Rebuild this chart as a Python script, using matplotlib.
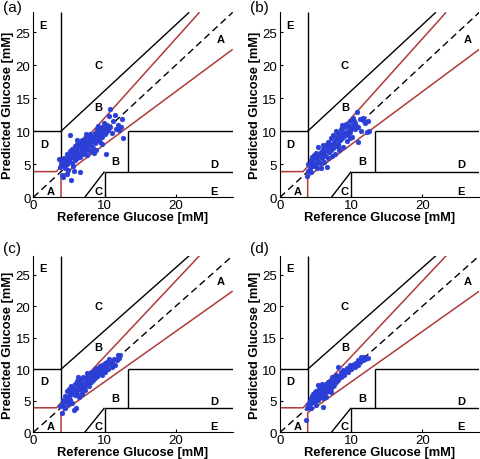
import matplotlib.pyplot as plt

plt.rcParams['font.family'] = ['Liberation Sans', 'DejaVu Sans']

INK = "black"
RED = "#b03a3a"
BLUE = "#2b3fd6"

# Clarke error grid limits in mM (70, 180, 240 mg/dL)
LO = 70 / 18.0
HI = 10.0
B_EDGE = 240 / 18.0
LIM = 28

panel_tags = ["(a)", "(b)", "(c)", "(d)"]

ref_a = [3.6, 3.7, 3.9, 4.0, 4.1, 4.1, 4.2, 4.3, 4.4, 4.5, 4.6, 4.7, 4.8, 4.9, 5.0, 5.0,
         5.1, 5.2, 5.2, 5.3, 5.3, 5.4, 5.5, 5.5, 5.6, 5.7, 5.8, 5.9, 6.0, 6.0, 6.1, 6.2,
         6.3, 6.4, 6.5, 6.5, 6.6, 6.6, 6.7, 6.8, 6.9, 7.0, 7.0, 7.1, 7.2, 7.3, 7.4, 7.5,
         7.5, 7.6, 7.7, 7.8, 7.9, 8.0, 8.0, 8.1, 8.2, 8.3, 8.4, 8.5, 8.5, 8.6, 8.7, 8.8,
         8.9, 9.0, 9.0, 9.1, 9.2, 9.3, 9.4, 9.5, 9.6, 9.7, 9.8, 9.9, 10.0, 10.1, 10.2,
         10.2, 10.3, 10.5, 10.6, 10.8, 10.8, 11.0, 11.2, 11.5, 11.6, 11.9, 12.1, 12.4,
         12.6, 12.3, 7.4, 6.2, 5.7, 4.7, 8.8, 9.6]
pred_a = [5.8, 4.6, 5.2, 3.4, 3.1, 5.6, 4.9, 6.0, 5.3, 4.4, 5.8, 6.5, 5.0, 4.2, 6.2, 5.5,
          7.0, 9.4, 5.9, 2.6, 6.6, 5.2, 7.3, 6.1, 4.7, 6.8, 7.8, 5.6, 7.0, 6.3, 8.1, 5.9,
          7.4, 6.7, 8.3, 7.6, 3.8, 6.1, 7.9, 7.1, 8.6, 6.6, 7.6, 8.2, 7.0, 9.0, 7.7, 6.4,
          8.4, 7.3, 9.3, 8.0, 7.0, 8.8, 9.6, 7.7, 8.5, 9.2, 7.4, 6.7, 8.9, 9.8, 8.2, 9.4,
          10.3, 8.6, 9.7, 10.8, 9.0, 10.1, 8.3, 9.5, 10.6, 9.1, 10.0, 11.2, 9.6, 10.5, 6.6,
          9.9, 11.0, 10.2, 12.3, 13.4, 10.7, 9.8, 11.5, 12.5, 10.4, 11.0, 10.2, 11.9,
          8.9, 10.6, 9.6, 8.7, 4.0, 3.6, 7.2, 8.0]

ref_b = [3.8, 3.9, 4.0, 4.2, 4.3, 4.4, 4.5, 4.6, 4.7, 4.8, 4.9, 5.0, 5.1, 5.2, 5.3, 5.4,
         5.5, 5.6, 5.7, 5.8, 5.9, 6.0, 6.1, 6.2, 6.3, 6.4, 6.5, 6.6, 6.7, 6.8, 6.9, 7.0,
         7.1, 7.2, 7.3, 7.4, 7.5, 7.6, 7.7, 7.8, 7.9, 8.0, 8.1, 8.2, 8.3, 8.4, 8.5, 8.6,
         8.7, 8.8, 8.9, 9.0, 9.1, 9.2, 9.3, 9.4, 9.5, 9.6, 9.7, 9.8, 9.9, 10.0, 10.1, 10.2,
         10.3, 10.5, 10.6, 10.8, 10.9, 11.0, 11.2, 11.4, 11.6, 11.8, 12.0, 12.2, 12.4, 12.5,
         6.1, 5.0, 7.3, 8.7, 9.9, 7.9, 10.4, 4.4, 6.7, 8.2]
pred_b = [3.3, 4.0, 5.0, 4.5, 5.6, 3.8, 6.1, 4.8, 5.4, 6.4, 5.0, 5.9, 6.7, 4.5, 5.5, 7.6,
          6.2, 5.2, 6.8, 4.4, 6.0, 7.3, 6.5, 5.4, 7.0, 7.9, 6.2, 4.6, 7.4, 8.3, 6.8, 7.7,
          8.9, 7.1, 8.0, 9.4, 7.5, 8.4, 6.5, 8.8, 7.8, 9.2, 8.1, 9.8, 7.2, 8.6, 9.5, 10.3,
          8.9, 9.9, 7.6, 9.3, 10.6, 9.7, 11.1, 8.5, 10.1, 9.4, 10.8, 9.9, 11.6, 10.4, 9.1, 10.9,
          12.0, 10.3, 11.3, 12.9, 10.6, 8.4, 11.8, 10.0, 12.0, 11.5, 11.2, 9.9, 11.6, 10.1,
          7.9, 4.8, 6.2, 10.9, 9.0, 10.0, 11.6, 5.2, 6.0, 7.7]

ref_c = [3.8, 4.0, 4.1, 4.2, 4.3, 4.5, 4.6, 4.7, 4.8, 4.9, 5.0, 5.1, 5.2, 5.3, 5.4, 5.5,
         5.6, 5.7, 5.8, 5.9, 6.0, 6.0, 6.1, 6.2, 6.3, 6.4, 6.5, 6.6, 6.7, 6.8, 6.9, 7.0,
         7.1, 7.2, 7.3, 7.4, 7.5, 7.6, 7.7, 7.8, 7.9, 8.0, 8.1, 8.2, 8.3, 8.4, 8.5, 8.6,
         8.7, 8.8, 8.9, 9.0, 9.1, 9.2, 9.3, 9.4, 9.5, 9.6, 9.7, 9.8, 9.9, 10.0, 10.1, 10.2,
         10.4, 10.5, 10.7, 10.9, 11.0, 11.2, 11.4, 11.5, 11.7, 11.9, 12.0, 12.2,
         6.3, 7.6, 5.2, 4.4, 8.0, 9.0, 10.6, 6.9]
pred_c = [4.2, 3.0, 4.6, 5.2, 4.0, 5.8, 4.9, 6.5, 5.5, 4.5, 6.9, 5.9, 5.2, 7.3, 6.4, 4.7,
          6.9, 3.6, 5.9, 7.6, 3.8, 6.7, 8.1, 6.1, 7.3, 5.6, 7.9, 6.9, 8.4, 6.3, 7.5, 8.7,
          7.1, 8.0, 6.7, 8.6, 7.5, 8.2, 9.0, 7.3, 8.5, 9.4, 7.9, 8.8, 9.6, 8.3, 9.1, 10.0,
          8.6, 9.5, 8.9, 10.2, 9.3, 9.8, 10.5, 9.5, 10.0, 9.1, 10.6, 9.9, 10.3, 11.0, 9.6, 10.4,
          11.1, 10.1, 10.8, 11.3, 10.4, 10.9, 11.6, 10.7, 11.5, 12.2, 11.8, 12.3,
          8.7, 9.4, 6.3, 3.9, 8.0, 9.0, 11.6, 6.1]

ref_d = [3.7, 3.8, 4.0, 4.1, 4.2, 4.3, 4.4, 4.5, 4.5, 4.6, 4.7, 4.8, 4.8, 4.9, 5.0, 5.0,
         5.1, 5.2, 5.2, 5.3, 5.3, 5.4, 5.5, 5.5, 5.6, 5.7, 5.7, 5.8, 5.9, 6.0, 6.0, 6.1,
         6.2, 6.2, 6.3, 6.4, 6.5, 6.6, 6.7, 6.8, 6.9, 7.0, 7.1, 7.2, 7.3, 7.4, 7.5, 7.6,
         7.7, 7.8, 7.9, 8.0, 8.1, 8.2, 8.3, 8.5, 8.6, 8.8, 8.9, 9.0, 9.2, 9.4, 9.5, 9.7,
         9.9, 10.0, 10.2, 10.4, 10.5, 10.7, 10.9, 11.0, 11.2, 11.4, 11.6, 11.8, 12.0, 12.3,
         6.5, 5.1, 7.1, 4.9, 5.9, 6.8, 4.3, 6.1]
pred_d = [2.0, 3.9, 4.5, 4.1, 5.0, 4.6, 5.4, 4.9, 5.8, 5.2, 6.1, 5.6, 4.8, 6.4, 5.3, 5.9,
          6.6, 5.7, 6.2, 7.5, 5.1, 6.0, 6.8, 5.5, 6.3, 7.1, 5.8, 6.5, 6.0, 4.0, 6.9, 6.3,
          7.3, 5.9, 6.7, 7.6, 6.4, 7.0, 7.9, 6.6, 7.3, 8.2, 7.0, 7.6, 8.7, 7.3, 8.0, 7.5,
          8.4, 9.1, 8.0, 8.7, 10.4, 8.3, 9.0, 9.5, 8.8, 9.3, 9.9, 9.1, 9.7, 10.2, 9.5, 10.1,
          10.6, 10.0, 10.5, 10.9, 10.3, 11.0, 11.4, 10.7, 11.2, 12.0, 11.5, 11.9, 11.7, 11.8,
          5.6, 4.4, 6.4, 5.0, 7.6, 7.8, 3.9, 5.4]

series = [(ref_a, pred_a), (ref_b, pred_b), (ref_c, pred_c), (ref_d, pred_d)]

zone_labels = ["E", "C", "B", "A", "D", "B", "D", "A", "C", "E"]
zone_x = [1.4, 9.1, 9.1, 26.3, 1.5, 11.5, 25.4, 2.5, 9.1, 25.4]
zone_y = [26.1, 20.0, 13.6, 24.0, 8.1, 5.5, 5.0, 1.0, 1.0, 1.0]

fig = plt.figure(figsize=(4.8, 4.6), dpi=100)
fig.patch.set_facecolor("white")

positions = [
    [0.0694, 0.5689, 0.4154, 0.4022],
    [0.5833, 0.5689, 0.4154, 0.4022],
    [0.0694, 0.0580, 0.4154, 0.3839],
    [0.5833, 0.0580, 0.4154, 0.3839],
]
# top of the panel tag, in axes fraction
tag_y = [1.066, 1.066, 1.083, 1.083]


def draw_grid(ax):
    k = dict(color=INK, lw=1.0, solid_capstyle="butt")
    r = dict(color=RED, lw=1.1, solid_capstyle="butt")
    ax.plot([0, LIM], [0, LIM], color=INK, lw=1.0, ls=(0, (5, 3)))
    # zone A borders
    ax.plot([0, LO / 1.2, LIM / 1.2], [LO, LO, LIM], **r)
    ax.plot([LO, LO, LIM], [0, 0.8 * LO, 0.8 * LIM], **r)
    # other zones
    ax.plot([LO, LO], [1.2 * LO, LIM], **k)
    ax.plot([0, LO], [HI, HI], **k)
    ax.plot([LO, LIM - (HI - LO)], [HI, LIM], **k)
    ax.plot([HI, HI], [0, LO], **k)
    ax.plot([HI, LIM], [LO, LO], **k)
    ax.plot([B_EDGE, B_EDGE], [LO, HI], **k)
    ax.plot([B_EDGE, LIM], [HI, HI], **k)
    ax.plot([130 / 18.0, HI], [0, LO], **k)


for i, ax_pos in enumerate(positions):
    ax = fig.add_axes(ax_pos)
    draw_grid(ax)
    xs, ys = series[i]
    ax.plot(xs, ys, "o", color=BLUE, ms=3.5, mec=BLUE, mew=0.3, zorder=3)
    for lab, zx, zy in zip(zone_labels, zone_x, zone_y):
        ax.text(zx, zy, lab, ha="center", va="center", fontsize=8,
                fontweight="bold", color=INK)
    ax.set_xlim(0, LIM)
    ax.set_ylim(0, LIM)
    ax.set_xticks([0, 10, 20])
    ax.set_yticks([0, 5, 10, 15, 20, 25])
    ax.tick_params(direction="in", length=2.5, labelsize=9.5)
    ax.tick_params(axis="x", pad=1)
    ax.tick_params(axis="y", pad=2)
    for s in ["top", "right"]:
        ax.spines[s].set_visible(False)
    ax.set_xlabel("Reference Glucose [mM]", fontsize=9.3, fontweight="bold",
                  labelpad=0)
    ax.set_ylabel("Predicted Glucose [mM]", fontsize=9.3, fontweight="bold",
                  labelpad=1)
    ax.text(-0.15, tag_y[i], panel_tags[i], transform=ax.transAxes,
            ha="left", va="top", fontsize=11)

fig.savefig("out.png", dpi=100, facecolor="white")
